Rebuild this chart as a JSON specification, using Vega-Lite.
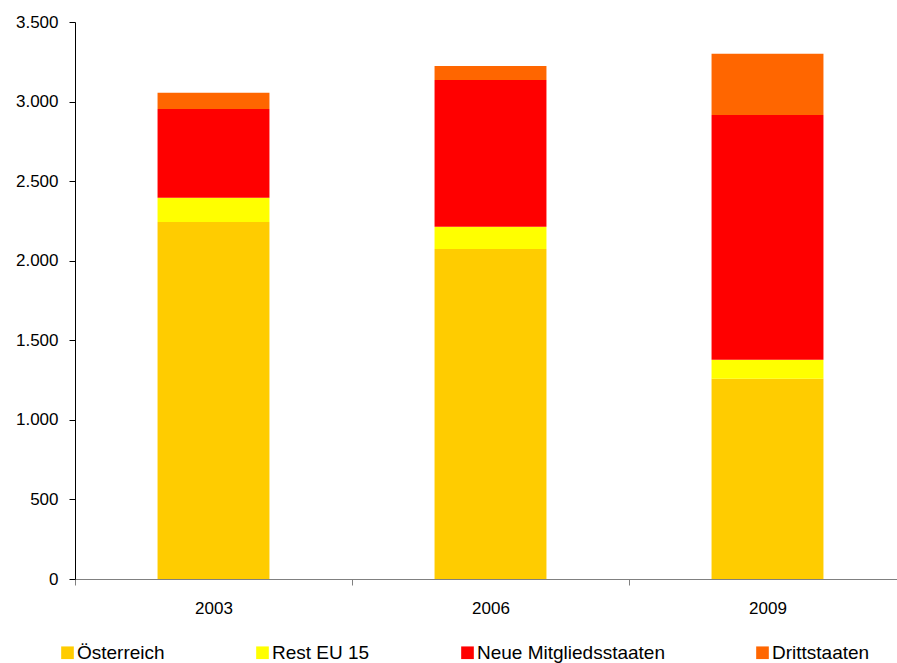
{
  "$schema": "https://vega.github.io/schema/vega-lite/v6.json",
  "width": 831,
  "height": 557,
  "autosize": {"type": "none"},
  "padding": {"left": 75, "top": 22, "right": 0, "bottom": 84},
  "background": "white",
  "data": {
    "values": [
      {"jahr": "2003", "herkunft": "Österreich", "rang": 1, "wert": 2244},
      {"jahr": "2003", "herkunft": "Rest EU 15", "rang": 2, "wert": 151},
      {"jahr": "2003", "herkunft": "Neue Mitgliedsstaaten", "rang": 3, "wert": 559},
      {"jahr": "2003", "herkunft": "Drittstaaten", "rang": 4, "wert": 101},
      {"jahr": "2006", "herkunft": "Österreich", "rang": 1, "wert": 2074},
      {"jahr": "2006", "herkunft": "Rest EU 15", "rang": 2, "wert": 139},
      {"jahr": "2006", "herkunft": "Neue Mitgliedsstaaten", "rang": 3, "wert": 923},
      {"jahr": "2006", "herkunft": "Drittstaaten", "rang": 4, "wert": 88},
      {"jahr": "2009", "herkunft": "Österreich", "rang": 1, "wert": 1258},
      {"jahr": "2009", "herkunft": "Rest EU 15", "rang": 2, "wert": 119},
      {"jahr": "2009", "herkunft": "Neue Mitgliedsstaaten", "rang": 3, "wert": 1539},
      {"jahr": "2009", "herkunft": "Drittstaaten", "rang": 4, "wert": 384}
    ]
  },
  "mark": {"type": "bar", "width": {"band": 0.404}},
  "encoding": {
    "x": {
      "field": "jahr",
      "type": "nominal",
      "title": null,
      "scale": {"paddingInner": 0, "paddingOuter": 0},
      "axis": {
        "labelAngle": 0,
        "tickBand": "extent",
        "domainColor": "#808080",
        "tickColor": "#808080",
        "tickSize": 6,
        "labelPadding": 15,
        "labelFont": "Liberation Sans",
        "labelFontSize": 17,
        "labelColor": "#000000"
      }
    },
    "y": {
      "field": "wert",
      "type": "quantitative",
      "stack": "zero",
      "title": null,
      "scale": {"domain": [0, 3500], "nice": false},
      "axis": {
        "values": [0, 500, 1000, 1500, 2000, 2500, 3000, 3500],
        "grid": false,
        "domainColor": "#000000",
        "tickColor": "#000000",
        "tickSize": 6,
        "labelPadding": 11,
        "labelFont": "Liberation Sans",
        "labelFontSize": 17,
        "labelColor": "#000000",
        "labelExpr": "replace(format(datum.value, ','), ',', '.')"
      }
    },
    "order": {"field": "rang", "type": "quantitative", "sort": "ascending"},
    "color": {
      "field": "herkunft",
      "type": "nominal",
      "title": null,
      "scale": {
        "domain": ["Österreich", "Rest EU 15", "Neue Mitgliedsstaaten", "Drittstaaten"],
        "range": ["#FFCC00", "#FFFF00", "#FF0000", "#FF6600"]
      },
      "legend": {
        "orient": "none",
        "legendX": -17,
        "legendY": 621,
        "direction": "horizontal",
        "symbolType": "square",
        "symbolSize": 160,
        "symbolStrokeWidth": 0,
        "symbolOpacity": 1,
        "labelFont": "Liberation Sans",
        "labelFontSize": 19,
        "labelColor": "#000000",
        "labelOffset": 0,
        "columnPadding": 88,
        "labelLimit": 400
      }
    }
  },
  "config": {
    "view": {"stroke": null},
    "axis": {"domainWidth": 1, "tickWidth": 1}
  }
}
